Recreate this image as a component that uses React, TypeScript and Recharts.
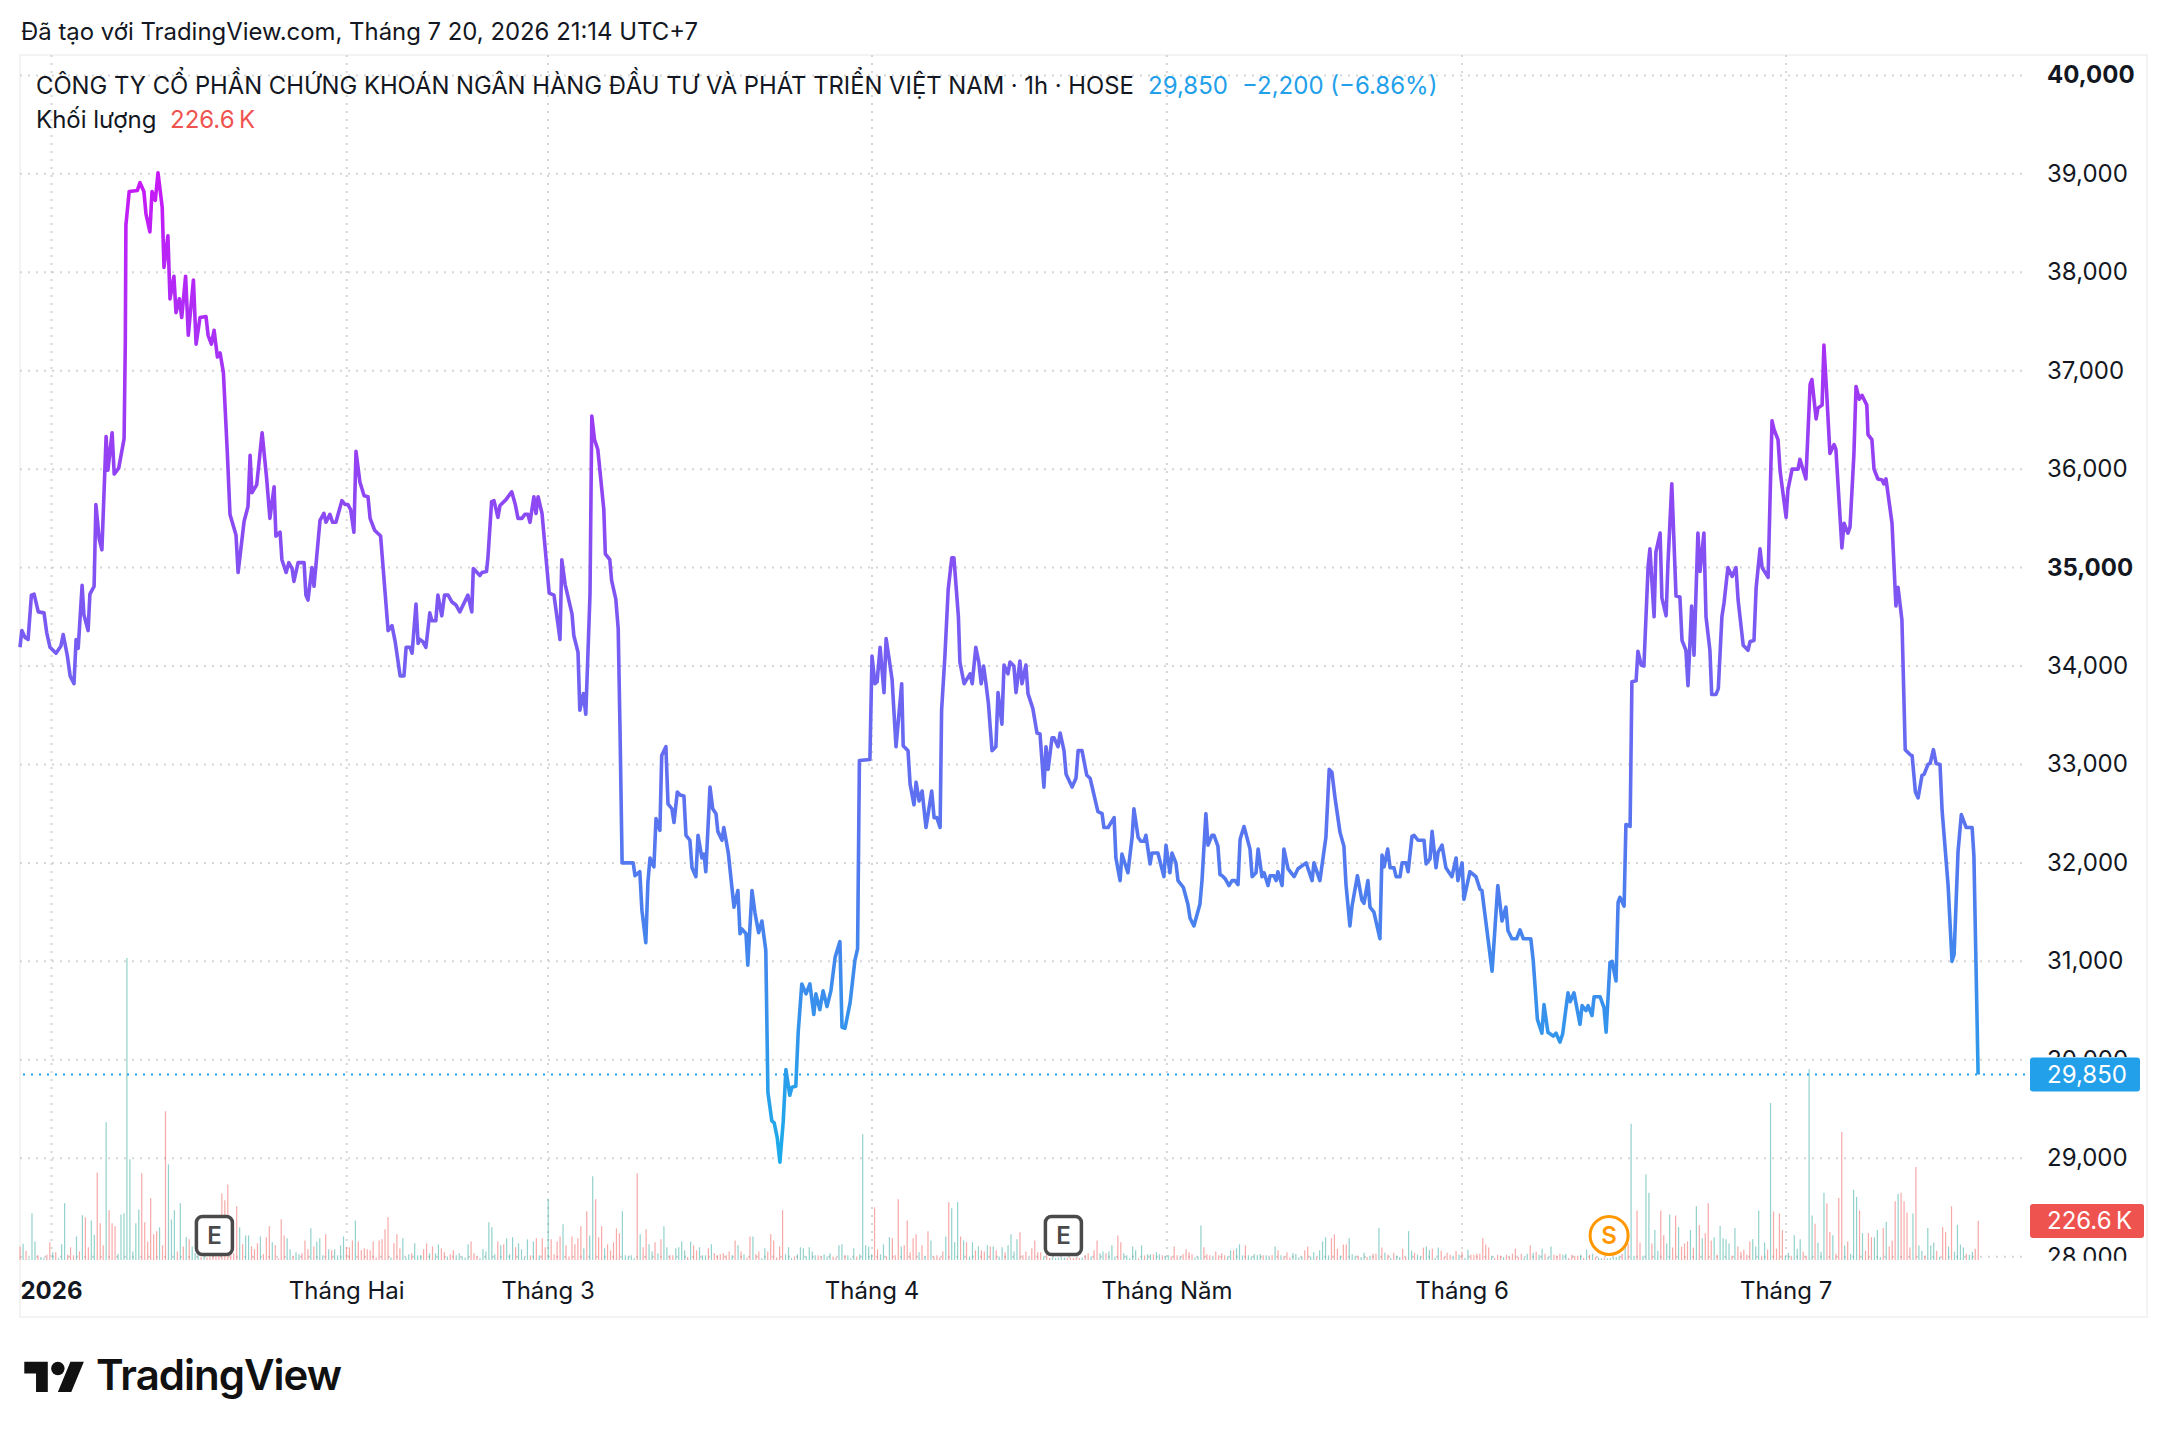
import { ComposedChart, Line, Bar, Cell, XAxis, YAxis, CartesianGrid, ReferenceLine, ReferenceDot } from 'recharts';

// time position of a point, price at close
const priceLine: [number, number][] = [
  [0, 34190], [0.6, 34360], [1.7, 34290], [2.7, 34270], [3.8, 34720], [4.7, 34730], [6.1, 34550], [8, 34540], [8.9, 34340], [10, 34190],
  [12, 34130], [13.6, 34200], [14.4, 34320], [15.8, 34100], [16.7, 33900], [18, 33820], [18.7, 34270], [19.4, 34180], [20.7, 34820], [21.3, 34520],
  [22.7, 34360], [23.3, 34730], [24.7, 34810], [25.3, 35640], [26.4, 35290], [27.3, 35180], [28.7, 36330], [29.3, 35990], [30.7, 36370], [31.4, 35950],
  [32.9, 36010], [34.7, 36310], [35.1, 37290], [35.3, 38480], [36.4, 38820], [39.1, 38830], [40, 38910], [41.3, 38820], [42, 38590], [43.3, 38410],
  [44, 38820], [45.1, 38730], [46, 39010], [47.4, 38660], [48, 38050], [49.3, 38370], [50, 37730], [51.3, 37960], [52, 37590], [53.1, 37730],
  [53.9, 37540], [55.2, 37960], [56.1, 37360], [57.8, 37920], [58.7, 37270], [60, 37540], [62, 37550], [62.7, 37360], [63.8, 37270], [64.7, 37410],
  [65.8, 37140], [66.7, 37180], [67.8, 36980], [69.1, 36170], [70, 35540], [72, 35330], [72.7, 34950], [74.7, 35470], [76, 35620], [76.7, 36140],
  [77.3, 35760], [78.9, 35840], [80.7, 36370], [82.2, 35910], [83.3, 35500], [84.7, 35820], [85.3, 35320], [86.7, 35360], [87.3, 35080], [88.7, 34950],
  [89.6, 35050], [90.7, 34990], [91.3, 34860], [92.7, 35050], [94.7, 35050], [95.3, 34720], [96, 34670], [97.3, 35000], [98, 34810], [100, 35480],
  [101.3, 35550], [102, 35460], [103.3, 35540], [104.2, 35460], [105.3, 35460], [107.3, 35680], [108.4, 35640], [109.3, 35640], [110.2, 35590], [111.3, 35360],
  [112, 36180], [113.3, 35870], [114.7, 35730], [116, 35720], [116.7, 35500], [118.2, 35380], [120.2, 35320], [122.7, 34360], [124, 34410], [125.1, 34240],
  [126.7, 33900], [128, 33900], [128.7, 34190], [130, 34190], [130.7, 34130], [132, 34630], [132.7, 34230], [133.3, 34270], [134.2, 34250], [135.3, 34190],
  [136.6, 34540], [137.3, 34460], [138.6, 34460], [139.3, 34720], [140.6, 34510], [141.5, 34720], [142.7, 34720], [144, 34650], [145.3, 34620], [146.6, 34550],
  [149.3, 34720], [150.6, 34550], [151.1, 34990], [153.3, 34920], [154, 34950], [155.5, 34960], [156, 35110], [157.2, 35670], [158, 35680], [159.3, 35510],
  [160, 35630], [162, 35690], [163.9, 35770], [165.1, 35640], [166, 35500], [167.3, 35500], [168.3, 35540], [169.3, 35540], [170, 35460], [171.3, 35720],
  [172, 35550], [172.7, 35720], [174, 35550], [176.4, 34740], [178, 34720], [180, 34270], [180.6, 35080], [181.7, 34830], [184, 34530], [184.6, 34310],
  [186, 34140], [186.6, 33550], [187.8, 33720], [188.6, 33510], [190, 34730], [190.6, 36540], [191.5, 36300], [192.6, 36200], [194.6, 35590], [195.1, 35140],
  [196.6, 35080], [197.2, 34870], [198.6, 34680], [199.4, 34380], [200, 33360], [200.7, 32000], [204.4, 32000], [205, 31870], [206.6, 31910], [207.3, 31520],
  [208.6, 31190], [209.3, 31800], [210, 32050], [211.3, 31960], [212, 32450], [213.3, 32330], [213.9, 33090], [215.3, 33180], [216, 32600], [217.3, 32550],
  [218, 32410], [219.1, 32720], [220, 32690], [221.3, 32680], [222, 32280], [223.3, 32230], [224, 31950], [225.3, 31860], [226, 32280], [227.3, 32050],
  [228, 32090], [228.6, 31910], [230, 32770], [230.9, 32550], [232, 32500], [232.6, 32320], [234, 32230], [234.6, 32360], [236.1, 32100], [238, 31550],
  [239.3, 31720], [240, 31280], [240.6, 31330], [242, 31280], [242.6, 30960], [244, 31720], [245, 31490], [246.2, 31290], [247.3, 31410], [248.6, 31110],
  [249.3, 29670], [250.6, 29380], [251.4, 29360], [252.4, 29210], [253.3, 28960], [254.4, 29370], [255.3, 29900], [256.6, 29640], [257.3, 29720], [258.6, 29730],
  [259.4, 30280], [260.6, 30770], [262, 30670], [263.3, 30770], [264.6, 30460], [265.3, 30670], [266.6, 30510], [267.7, 30700], [269, 30540], [270.3, 30700],
  [271.7, 31040], [273.3, 31200], [274, 30330], [275, 30320], [276.7, 30580], [278.3, 31010], [279.2, 31130], [279.8, 33040], [283.3, 33050], [284, 34100],
  [285, 33820], [285.7, 33840], [286.7, 34190], [288, 33730], [288.7, 34280], [290, 34010], [290.7, 33860], [292, 33180], [293.9, 33820], [294.4, 33190],
  [296, 33140], [296.7, 32800], [298, 32590], [298.7, 32820], [299.7, 32630], [300.7, 32730], [302, 32360], [303.9, 32730], [304.7, 32460], [305.6, 32460],
  [306.7, 32360], [307.2, 33550], [308.3, 34100], [309.4, 34780], [310.6, 35100], [311.3, 35100], [312.8, 34500], [313.3, 34040], [314.7, 33820], [316.7, 33920],
  [317.4, 33820], [318.6, 34190], [319.6, 34040], [320.4, 33820], [321.2, 34000], [322, 33820], [322.8, 33620], [324, 33140], [325.3, 33180], [326, 33730],
  [327.3, 33410], [328, 34010], [329.3, 33920], [330, 34040], [331.3, 34000], [332, 33730], [333.3, 34050], [334, 33820], [335.3, 34010], [336, 33720],
  [337.6, 33570], [339, 33320], [340, 33310], [341.3, 32770], [342, 33180], [342.7, 32950], [344, 33270], [344.7, 33270], [346, 33180], [346.7, 33320],
  [348, 33140], [348.7, 32900], [350.7, 32770], [352, 32860], [352.7, 33140], [354, 33140], [355.6, 32890], [356.7, 32860], [359.3, 32520], [360.7, 32500],
  [361.3, 32360], [362.7, 32360], [364.7, 32460], [365.3, 32050], [366.7, 31820], [367.3, 32090], [369.3, 31900], [370.7, 32260], [371.3, 32550], [372.7, 32260],
  [373.6, 32220], [374.7, 32220], [375.3, 32280], [376.7, 31990], [377.3, 32100], [379.3, 32100], [381.3, 31860], [382, 32180], [383.3, 31900], [384, 32100],
  [385.3, 32000], [386, 31820], [387.8, 31750], [389.3, 31580], [390, 31440], [391.3, 31360], [393.3, 31580], [394, 31820], [395.3, 32500], [396, 32180],
  [397.3, 32280], [398, 32280], [399.3, 32170], [400, 31880], [400.7, 31870], [401.7, 31840], [403, 31770], [404, 31820], [405, 31820], [406, 31780],
  [406.7, 32240], [408, 32370], [410, 32140], [410.7, 31860], [412, 31900], [412.7, 32140], [414, 31860], [414.7, 31900], [416, 31770], [416.7, 31870],
  [418, 31870], [418.7, 31820], [419.3, 31910], [420.7, 31770], [421.3, 32140], [422.7, 31940], [424.7, 31860], [426, 31940], [428.7, 32000], [430.7, 31820],
  [431.3, 32000], [433.3, 31820], [435.3, 32260], [436.4, 32950], [437.3, 32920], [438.3, 32670], [440, 32310], [441.3, 32170], [442, 31780], [443.3, 31360],
  [444, 31560], [445.8, 31870], [447.3, 31620], [448, 31590], [449.3, 31820], [450, 31550], [451.3, 31500], [453.3, 31230], [454, 32080], [454.7, 31960],
  [455.9, 32140], [456.7, 31950], [458, 31950], [458.7, 31860], [460, 31860], [460.7, 32000], [462, 32000], [462.7, 31910], [464, 32270], [464.7, 32280],
  [466, 32230], [468, 32230], [468.7, 31990], [470, 32040], [470.7, 32320], [472, 31950], [472.7, 32110], [474, 32180], [475.3, 31950], [477.3, 31860],
  [478.7, 32050], [479.3, 31820], [480.7, 32000], [481.3, 31630], [483.3, 31910], [485.3, 31860], [486.7, 31730], [487.3, 31720], [490.7, 30900], [492.6, 31770],
  [494, 31410], [495.3, 31550], [496, 31310], [497.3, 31230], [498.9, 31230], [500, 31320], [501.1, 31230], [503.6, 31230], [504.4, 31010], [505.8, 30410],
  [507.3, 30270], [508, 30560], [509.3, 30280], [511.1, 30240], [512, 30270], [513.3, 30180], [514.2, 30260], [516, 30680], [516.7, 30590], [518, 30680],
  [520, 30360], [520.7, 30550], [522, 30500], [522.7, 30550], [524, 30450], [524.7, 30640], [526.7, 30640], [528, 30530], [528.7, 30280], [530, 30990],
  [530.7, 31000], [532, 30800], [532.7, 31600], [533.3, 31650], [534.7, 31560], [535.3, 32390], [536.7, 32370], [537.3, 33840], [538.7, 33850], [539.3, 34150],
  [540.4, 34010], [541.3, 34000], [542.7, 35010], [543.3, 35190], [544.7, 34500], [545.3, 35160], [546.7, 35350], [547.3, 34690], [548.7, 34510], [549.3, 35030],
  [550.6, 35850], [552, 34710], [553.3, 34700], [554, 34260], [555.3, 34160], [556, 33800], [557.2, 34610], [558, 34110], [559.3, 35350], [560, 34960],
  [561.3, 35350], [562, 34500], [563.3, 34160], [563.9, 33710], [565.3, 33710], [566.1, 33770], [567.3, 34500], [568, 34640], [569.3, 35000], [570.7, 34910],
  [572, 35000], [572.7, 34670], [574.4, 34210], [576, 34160], [576.7, 34250], [578, 34260], [578.7, 34790], [580, 35190], [580.7, 35000], [582.7, 34900],
  [584, 36490], [584.7, 36400], [586, 36300], [586.7, 35980], [588.7, 35510], [589.3, 35790], [590.7, 36000], [592.7, 36000], [593.3, 36100], [595.3, 35900],
  [596.7, 36860], [597.3, 36910], [598.7, 36510], [599.3, 36620], [600.7, 36650], [601.3, 37260], [602.2, 36790], [603.3, 36160], [604.7, 36250], [605.3, 36200],
  [607.3, 35200], [608, 35450], [609.3, 35350], [610, 35410], [611.3, 36150], [612, 36840], [613.1, 36710], [614, 36750], [615.6, 36650], [616, 36350],
  [617.3, 36300], [618, 36000], [619.3, 35900], [620.7, 35890], [621.3, 35850], [622, 35900], [624, 35450], [625.3, 34610], [626, 34800], [627.3, 34470],
  [628.4, 33150], [630, 33100], [630.7, 33090], [631.8, 32720], [632.7, 32660], [634, 32890], [634.7, 32900], [636, 33000], [636.7, 33010], [637.8, 33150],
  [638.7, 33010], [640, 33000], [640.7, 32530], [642.7, 31770], [644, 31000], [644.7, 31070], [646, 32110], [647.1, 32490], [648.7, 32360], [650.7, 32360],
  [651.3, 32070], [652.7, 29850],
];

// thousands of shares per hour, a minus sign marks a falling candle
const volumeK: number[] = [
  -79, 95, -54, 10, 271, 108, -27, 17, 10, -31, -103, 45, -45, 10, 91, 329, -31, -74, -27, 137, -50, 260, -248, -74, 230, 147, -509, -213, -85, 800,
  -289, -213, -196, 37, 265, 271, 1755, 585, 50, 213, 294, -504, -219, -108, -358, -149, -167, 190, -85, -864, 556, 236, 289, -50, 329, -79, 132, -120, 79, 40,
  30, -20, 25, -15, -20, -30, -25, -40, -387, -347, -438, -30, -39, -312, 190, -91, 143, 143, -79, -62, -97, 137, -35, -132, -196, 103, -85, -10, -236, -143,
  126, 62, -21, 45, 33, -39, -114, -62, 184, -79, 108, 126, 27, -149, 62, -56, 62, 27, 85, 137, -74, -74, -114, 230, -108, -56, -68, -62, -56, -108,
  -15, -114, -120, -178, -248, 15, -97, -149, -68, 126, 15, 33, -39, 97, 27, 27, -62, -97, 39, -79, 39, 91, -68, -45, 21, -33, -56, 27, 39, 21,
  15, 91, -108, -39, -21, 10, 62, 50, 219, 190, 33, -108, 85, -91, 126, 33, 132, -74, 97, 62, 15, 120, -27, 108, -126, 27, -126, -74, 356, -120,
  -33, -108, -137, 207, -85, -21, -137, -91, -126, -196, 68, -283, 143, 486, -353, -132, -196, 68, -91, -56, -103, -184, -155, 283, 27, 21, 27, 10, -504, 149,
  -74, -178, 91, 50, -103, 39, -120, 196, 74, -27, -27, 68, 74,
  108, 56, -17, 108, -85, -56, 74, 27, 27, -68, 91, -39, -27, -33, -39, -27, -50, 27, -114, 85, -50, 33, -15, -137, 137, -33, -50, 10, 68, -50,
  -149, -114, -15, -79, -289, 33, 74, 12, -21, 33, 74, 68, 21, 74, 50, 27, -27, -21, 33, 21, 39, -21, -15, 85, 91, -27, 27, 10, 68, -21,
  33, 730, 85, 79, 33, -306, -62, 33, 91, -21, 132, -126, -27, -353, 79, -85, -230, -45, -126, -149, 45, -85, 21, -167, 114, -21, -27, -15, -50, 137,
  -335, 300, 103, 335, -137, 114, -103, 21, 103, -56, 79, -56, -50, 85, -79, 79, -56, 21, 74, -45, 85, 149, 50, 120, -161, -27, -50, 10, -68, -114,
  -45, -45, 21, -33, -12, 14, 12, 14, 12, 14, -12, -14, -12, -14, -12, 14, -27, -39, 21, -56, -114, 39, 50, -39, 50, 85, 21, -143, -103, 39,
  27, 10, 79, 56, -10, 85, -27, 33, 33, -33, 45, 33, -27, 21, 27, -21, -79, -27, 21, -33, -62, -45, -33, 15, 21, 201, -74, -33, -27, 15,
  -50, -27, -39, -27, 21, 56, -56, 68, 91, 27, -85, 27, 21, 33, 27, 33, -27, 27, 15, -27, 79, -56, 27, -21, -45, -15, 39, 33, 15, 21,
  -56, -79, 21, 45, -15, 56, 108, 132, 27, -126, -149,
  -66, 24, -90, -90, 126, 34, 24, -24, 18, 42, -18, 24, -36, -36, 186, -72, 42, -30, 12, -42, 24, 18, -66, -18, 168, 54, -42, 30, 18, -72,
  78, 60, -66, 12, 72, -54, -18, -42, -30, 18, -54, 30, -48, 12, 60, -30, -30, -36, -36, -126, -90, -72, 24, -12, -30, -24, 18, -30, -18, -36,
  -66, -18, -36, 12, 36, -84, 42, -48, 30, 66, -36, 18, 78, -30, -24, -36, 30, 36, -12, -30, -24, -24, 30, -12, 60, -30, 36, -18, 12, 10,
  -10, 10, 12, 14, 18, 24, -36, 90, -96, 792, 24, -288, -102, 24, 498, 390, -96, 174, 54, -288, -144, 96, 264, -72, -258, 192, -78, -96, -108, 174,
  -72, 312, -204, 126, -156, -330, -114, 132, -30, 198, 126, 120, 96, -24, 186, -78, -48, -60, -30, -108, 120, 78, 288, -24, 102, -60, 912, -282, -66, -270,
  -174, 24, 42, -24, 144, 66, 120, -48, -24, 1110, 258, -210, 102, 48, 390, -330, -162, 144, -36, -360, -744, 84, -108, 36, 408, 366, -288, 156, -54, -156,
  -132, 132, 174, 18, -186, 222, -78, -114, -342, 384, -390, -342, -276, -72, 270, -540, 84, 54, -24, 186, 84, 102, -54, 18, -192, -162, 78, -312, 48, 204,
  90, 72, -36, 30, 48, -66, -228,
];

const priceTicks = [28000, 29000, 30000, 31000, 32000, 33000, 34000, 35000, 36000, 37000, 38000, 39000, 40000];
const boldPrices = [35000, 40000];
const monthSlots = [10.5, 108.9, 176, 284, 382.3, 480.7, 588.7];
const monthLabels = ['2026', 'Tháng Hai', 'Tháng 3', 'Tháng 4', 'Tháng Năm', 'Tháng 6', 'Tháng 7'];
const eventSlots = [64.8, 347.8];
const splitSlot = 529.7;
const lastPrice = 29850;
const lastVolume = 226.6;

const lineRows = priceLine.map(([slot, price]) => ({ slot, price }));
// the bars sit a little closer than one slot
const volumeRows = volumeK.map((v, i) => ({ slot: (i * 652.7) / (volumeK.length - 1), volume: Math.abs(v), up: v > 0 }));

const font = 'Inter, sans-serif';
const ink = '#131722';
const UP = 'rgba(38,166,154,0.5)';
const DOWN = 'rgba(239,83,80,0.5)';

const PriceTick = ({ x, y, payload }: any) => (
  <g clipPath="url(#axisClip)">
    <text x={x + 14} y={y} dy={8} fontFamily={font} fontSize={24} fill={ink} fontWeight={boldPrices.includes(payload.value) ? 700 : 400}>
      {payload.value.toLocaleString('en-US')}
    </text>
  </g>
);

const MonthTick = ({ x, y, payload }: any) => {
  const label = monthLabels[monthSlots.indexOf(payload.value)];
  return (
    <text x={x} y={y + 31} textAnchor="middle" fontFamily={font} fontSize={24} fill={ink} fontWeight={label === '2026' ? 700 : 400}>
      {label}
    </text>
  );
};

const ValueTag = ({ viewBox, text, fill, w }: any) => (
  <g>
    <rect x={viewBox.x + viewBox.width + 5} y={viewBox.y - 17} width={w} height={34} rx={3} fill={fill} />
    <text x={viewBox.x + viewBox.width + 22} y={viewBox.y + 8} fontFamily={font} fontSize={24} fill="#fff">{text}</text>
  </g>
);

const EventMark = ({ cx, cy }: any) => (
  <g>
    <rect x={cx - 18} y={cy - 20} width={36} height={38} rx={6} fill="#fff" stroke="#4a4a4a" strokeWidth={3.5} />
    <text x={cx} y={cy + 8} textAnchor="middle" fontFamily={font} fontSize={24} fontWeight={600} fill="#4a4a4a">E</text>
  </g>
);

const SplitMark = ({ cx, cy }: any) => (
  <g>
    <circle cx={cx} cy={cy - 1} r={19} fill="#fff" stroke="#ff9800" strokeWidth={3} />
    <text x={cx} y={cy + 8} textAnchor="middle" fontFamily={font} fontSize={24} fontWeight={600} fill="#ff9800">S</text>
  </g>
);

const textAt = (left: number, top: number, size: number): React.CSSProperties => ({
  position: 'absolute', left, top, fontFamily: font, fontSize: size, color: ink, whiteSpace: 'pre', lineHeight: 1,
});

const App = () => {
  return (
    <div style={{ position: 'absolute', left: 0, top: 0, width: 2168, height: 1436, background: '#fff', overflow: 'hidden' }}>
      <div style={textAt(21, 20, 23.9)}>Đã tạo với TradingView.com, Tháng 7 20, 2026 21:14 UTC+7</div>
      <div style={{ position: 'absolute', left: 19, top: 54, width: 2125, height: 1260, border: '2px solid #f3f3f4' }} />

      <ComposedChart
        style={{ position: 'absolute', left: 0, top: 0 }}
        width={2168}
        height={1436}
        data={volumeRows}
        margin={{ top: 55, right: 0, bottom: 0, left: 20 }}
      >
        <defs>
          <linearGradient id="lineFade" x1="0" y1="0" x2="0" y2="1">
            <stop offset="0%" stopColor="#c819f7" />
            <stop offset="25%" stopColor="#9a3cf3" />
            <stop offset="50%" stopColor="#7360f2" />
            <stop offset="75%" stopColor="#4a80ee" />
            <stop offset="100%" stopColor="#1bace9" />
          </linearGradient>
          <clipPath id="axisClip">
            <rect x={2030} y={0} width={138} height={1057} />
            <rect x={2030} y={1091} width={138} height={169.7} />
          </clipPath>
        </defs>
        <CartesianGrid yAxisId="price" syncWithTicks stroke="#d6d6d6" strokeWidth={2} strokeDasharray="2 6" />
        <XAxis
          dataKey="slot"
          type="number"
          domain={[0, 668.33]}
          ticks={monthSlots}
          interval={0}
          height={176}
          axisLine={false}
          tickLine={false}
          tick={<MonthTick />}
        />
        <XAxis xAxisId="bars" dataKey="slot" hide type="number" domain={[0, 668.33]} />
        <YAxis
          yAxisId="price"
          orientation="right"
          type="number"
          domain={[27966, 40207]}
          ticks={priceTicks}
          interval={0}
          width={143}
          axisLine={false}
          tickLine={false}
          tick={<PriceTick />}
        />
        <YAxis yAxisId="volume" hide type="number" domain={[0, 7000]} />
        <Bar xAxisId="bars" yAxisId="volume" dataKey="volume" barSize={1.2} isAnimationActive={false}>
          {volumeRows.map((row) => (
            <Cell key={row.slot} fill={row.up ? UP : DOWN} />
          ))}
        </Bar>
        <ReferenceLine yAxisId="price" y={lastPrice} stroke="#22a0ea" strokeWidth={2} strokeDasharray="2 6" label={<ValueTag text="29,850" fill="#22a0ea" w={110} />} />
        <ReferenceLine yAxisId="volume" y={lastVolume} stroke="none" label={<ValueTag text={'226.6\u2009K'} fill="#ef5350" w={114} />} />
        <Line
          yAxisId="price"
          data={lineRows}
          dataKey="price"
          type="linear"
          stroke="url(#lineFade)"
          strokeWidth={3.6}
          strokeLinejoin="round"
          dot={false}
          isAnimationActive={false}
        />
        {eventSlots.map((slot) => (
          <ReferenceDot key={slot} yAxisId="price" x={slot} y={28205} shape={<EventMark />} />
        ))}
        <ReferenceDot yAxisId="price" x={splitSlot} y={28205} shape={<SplitMark />} />
      </ComposedChart>

      <div style={textAt(36, 74, 23.8)}>CÔNG TY CỔ PHẦN CHỨNG KHOÁN NGÂN HÀNG ĐẦU TƯ VÀ PHÁT TRIỂN VIỆT NAM · 1h · HOSE</div>
      <div style={{ ...textAt(1148, 74, 24), color: '#22a0ea' }}>29,850</div>
      <div style={{ ...textAt(1242, 74, 24), color: '#22a0ea' }}>−2,200 (−6.86%)</div>
      <div style={textAt(36, 108, 24)}>Khối lượng</div>
      <div style={{ ...textAt(170, 108, 24), color: '#ef5350' }}>{'226.6\u2009K'}</div>

      <svg style={{ position: 'absolute', left: 24, top: 1355 }} width={61} height={47} viewBox="0 0 36 28" fill="#111">
        <path d="M14 22H7V11H0V4h14v18zM28 22h-8l7.5-18h8L28 22z" />
        <circle cx="20" cy="8" r="4" />
      </svg>
      <div style={{ ...textAt(96, 1354, 42), fontWeight: 600, letterSpacing: -1, color: '#111' }}>TradingView</div>
    </div>
  );
};

export default App;
